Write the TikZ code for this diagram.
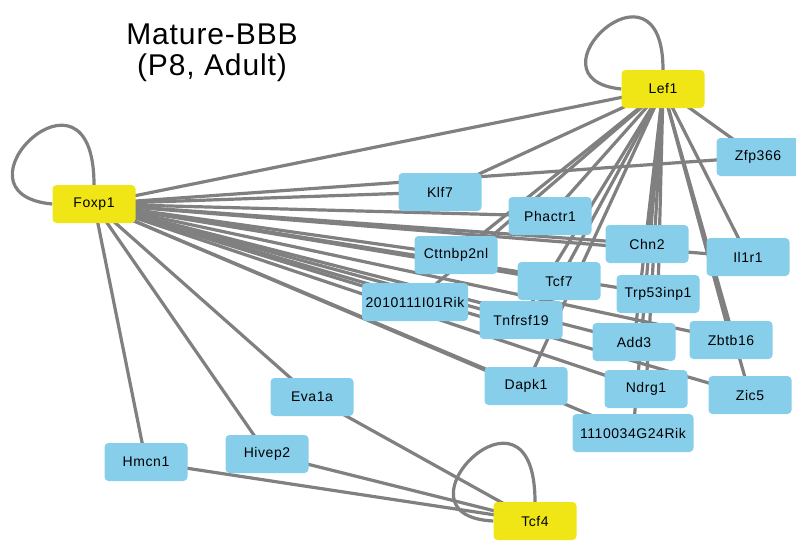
\documentclass[tikz,border=0pt]{standalone}
\usepackage{fontspec}
\setmainfont{Liberation Sans}
\newfontfamily\genefont[LetterSpace=4]{Liberation Sans}
\newfontfamily\titlefont[LetterSpace=3]{Liberation Sans}
\usetikzlibrary{backgrounds}
\definecolor{geneblue}{RGB}{135,206,235}
\definecolor{hubyellow}{RGB}{240,230,22}
\definecolor{linkgray}{RGB}{128,128,128}

\tikzset{
    gene/.style={fill=geneblue, rounded corners=4pt, minimum width=83pt, minimum height=38pt, inner sep=2pt, font=\genefont\fontsize{14}{16}\selectfont},
    hub/.style={gene, fill=hubyellow},
    link/.style={draw=linkgray, line width=3.2pt},
}

\begin{document}
\begin{tikzpicture}[x=1pt, y=-1pt]
    \useasboundingbox (0,0) rectangle (796,541);

    % Title
    \node[align=center, font=\titlefont\fontsize{30}{31}\selectfont] (title) at (212,53) {Mature-BBB\\(P8, Adult)};

    % Create hubs
    \node[hub] (lef1) at (663,89) {Lef1};
    \node[hub] (foxp1) at (94,204) {Foxp1};
    \node[hub] (tcf4) at (535,521) {Tcf4};

    % Create targets
    \node[gene] (zfp366) at (758,157) {Zfp366};
    \node[gene] (klf7) at (440,192) {Klf7};
    \node[gene] (phactr1) at (550,216) {Phactr1};
    \node[gene] (chn2) at (647,244) {Chn2};
    \node[gene] (il1r1) at (748,257) {Il1r1};
    \node[gene] (cttnbp2nl) at (456,255) {Cttnbp2nl};
    \node[gene] (tcf7) at (559,281) {Tcf7};
    \node[gene] (trp53inp1) at (658,294) {Trp53inp1};
    \node[gene, minimum width=106pt] (rik2010) at (415,302) {2010111I01Rik};
    \node[gene] (tnfrsf19) at (521,320) {Tnfrsf19};
    \node[gene] (zbtb16) at (731,340) {Zbtb16};
    \node[gene] (add3) at (634,342) {Add3};
    \node[gene] (dapk1) at (526,386) {Dapk1};
    \node[gene] (ndrg1) at (646,389) {Ndrg1};
    \node[gene] (zic5) at (750,395) {Zic5};
    \node[gene, minimum width=121pt] (rik1110) at (633,433) {1110034G24Rik};
    \node[gene] (eva1a) at (312,397) {Eva1a};
    \node[gene] (hivep2) at (267,454) {Hivep2};
    \node[gene] (hmcn1) at (146,462) {Hmcn1};

    % Draw edges behind the boxes
    \begin{pgfonlayer}{background}
    % self loops
    \draw[link] (lef1.west) .. controls +(-100,-10) and +(0,-125) .. (lef1.north);
    \draw[link] (foxp1.west) .. controls +(-110,-10) and +(0,-140) .. (foxp1.north);
    \draw[link] (tcf4.west) .. controls +(-110,-5) and +(0,-140) .. (tcf4.north);

    % Foxp1 edges
    \draw[link] (foxp1.center) -- (lef1.center);
    \draw[link] (foxp1.center) -- (zfp366.center);
    \draw[link] (foxp1.center) -- (klf7.center);
    \draw[link] (foxp1.center) -- (phactr1.center);
    \draw[link] (foxp1.center) -- (chn2.center);
    \draw[link] (foxp1.center) -- (il1r1.center);
    \draw[link] (foxp1.center) -- (cttnbp2nl.center);
    \draw[link] (foxp1.center) -- (tcf7.center);
    \draw[link] (foxp1.center) -- (trp53inp1.center);
    \draw[link] (foxp1.center) -- (rik2010.center);
    \draw[link] (foxp1.center) -- (tnfrsf19.center);
    \draw[link] (foxp1.center) -- (zbtb16.center);
    \draw[link] (foxp1.center) -- (add3.center);
    \draw[link] (foxp1.center) -- (dapk1.center);
    \draw[link] (foxp1.center) -- (ndrg1.center);
    \draw[link] (foxp1.center) -- (zic5.center);
    \draw[link] (foxp1.center) -- (rik1110.center);
    \draw[link] (foxp1.center) -- (eva1a.center);
    \draw[link] (foxp1.center) -- (hivep2.center);
    \draw[link] (foxp1.center) -- (hmcn1.center);

    % Lef1 edges
    \draw[link] (lef1.center) -- (zfp366.center);
    \draw[link] (lef1.center) -- (klf7.center);
    \draw[link] (lef1.center) -- (phactr1.center);
    \draw[link] (lef1.center) -- (chn2.center);
    \draw[link] (lef1.center) -- (il1r1.center);
    \draw[link] (lef1.center) -- (cttnbp2nl.center);
    \draw[link] (lef1.center) -- (tcf7.center);
    \draw[link] (lef1.center) -- (trp53inp1.center);
    \draw[link] (lef1.center) -- (rik2010.center);
    \draw[link] (lef1.center) -- (tnfrsf19.center);
    \draw[link] (lef1.center) -- (zbtb16.center);
    \draw[link] (lef1.center) -- (add3.center);
    \draw[link] (lef1.center) -- (dapk1.center);
    \draw[link] (lef1.center) -- (ndrg1.center);
    \draw[link] (lef1.center) -- (zic5.center);
    \draw[link] (lef1.center) -- (rik1110.center);

    % Tcf4 edges
    \draw[link] (tcf4.center) -- (eva1a.center);
    \draw[link] (tcf4.center) -- (hivep2.center);
    \draw[link] (tcf4.center) -- (hmcn1.center);
    \end{pgfonlayer}
\end{tikzpicture}
\end{document}
